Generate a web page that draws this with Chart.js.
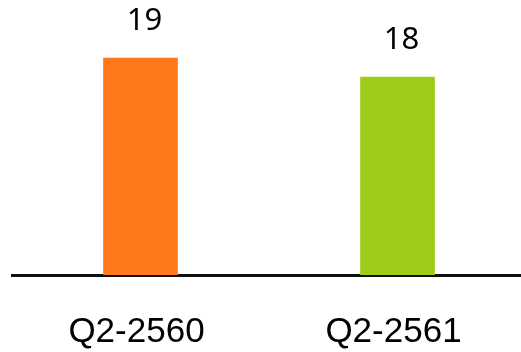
<!DOCTYPE html>
<html>
<head>
<meta charset="utf-8">
<script src="https://cdn.jsdelivr.net/npm/chart.js@4/dist/chart.umd.min.js"></script>
<style>
  html, body { margin: 0; padding: 0; background: #fff; overflow: hidden; }
  #wrap { width: 526px; height: 352px; }
</style>
</head>
<body>
<div id="wrap"><canvas id="grafico"></canvas></div>
<script>
const periodos = ['Q2-2560', 'Q2-2561'];
const valores = [19, 18];
const colores = ['#FF781A', '#9ECC1A'];

// escribe el valor encima de cada barra
const etiquetasValor = {
    id: 'etiquetasValor',
    afterDatasetsDraw(chart) {
        const ctx = chart.ctx;
        const meta = chart.getDatasetMeta(0);
        ctx.save();
        ctx.font = '31px "Noto Sans"';
        ctx.fillStyle = '#000';
        ctx.textAlign = 'center';
        ctx.textBaseline = 'alphabetic';
        meta.data.forEach((bar, i) => {
            ctx.fillText(String(valores[i]), bar.x + 4, bar.y - 28);
        });
        ctx.restore();
    }
};

const ctx = document.getElementById('grafico').getContext('2d');
let chart = new Chart(ctx, {
    type: 'bar',
    data: {
        labels: periodos,
        datasets: [{
            data: valores,
            backgroundColor: colores,
            barThickness: 74
        }]
    },
    options: {
        responsive: true,
        maintainAspectRatio: false,
        animation: false,
        layout: {
            padding: { left: 12, right: 0, top: 0, bottom: 0 }
        },
        plugins: {
            legend: { display: false },
            tooltip: { enabled: false }
        },
        scales: {
            y: {
                display: false,
                min: 7.6,
                max: 22.05
            },
            x: {
                grid: { display: false, drawTicks: false },
                border: { display: true, color: '#111', width: 3 },
                ticks: {
                    color: '#000',
                    padding: 36,
                    labelOffset: -4,
                    font: { family: '"Liberation Sans", Arial, sans-serif', size: 35 }
                },
                afterFit(scale) {
                    scale.height = 77;
                }
            }
        }
    },
    plugins: [etiquetasValor]
});
</script>
</body>
</html>
